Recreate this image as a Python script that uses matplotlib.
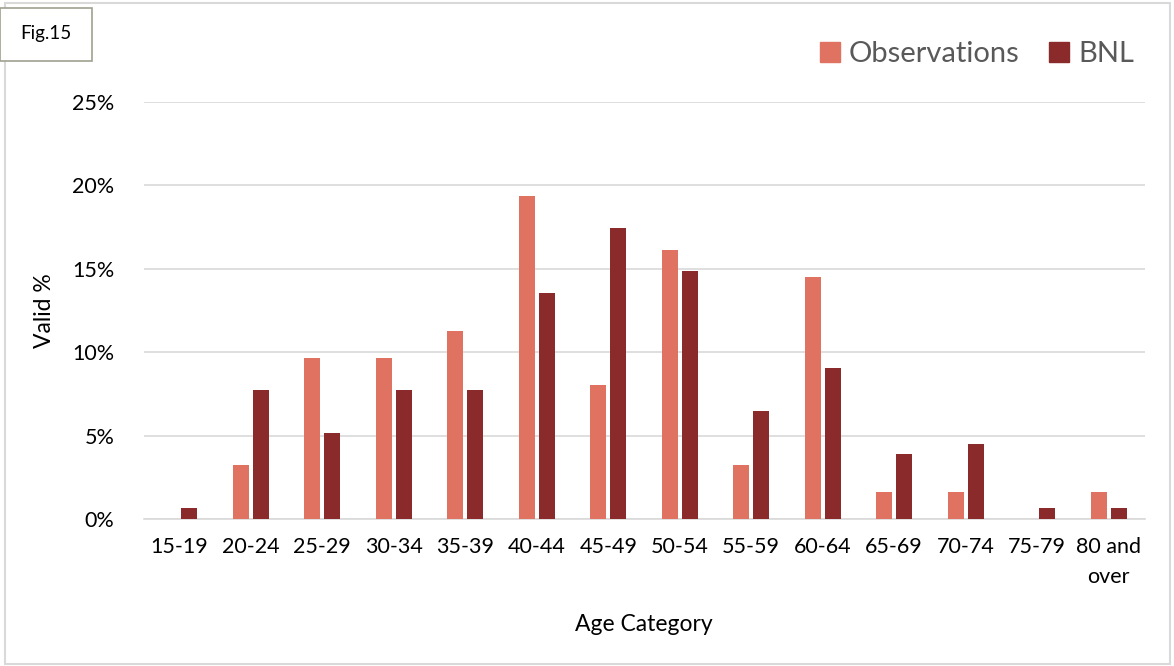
import numpy as np
import matplotlib.pyplot as plt
from matplotlib.patches import Rectangle, Patch
from matplotlib.ticker import FuncFormatter

plt.rcParams['font.family'] = ['Lato', 'DejaVu Sans']

# age groups and valid percentages
age_groups = ['15-19', '20-24', '25-29', '30-34', '35-39', '40-44', '45-49',
              '50-54', '55-59', '60-64', '65-69', '70-74', '75-79', '80 and\nover']
observations = [0.0, 3.23, 9.68, 9.68, 11.29, 19.35, 8.06,
                16.13, 3.23, 14.52, 1.61, 1.61, 0.0, 1.61]
bnl = [0.65, 7.74, 5.16, 7.74, 7.74, 13.55, 17.42,
       14.84, 6.45, 9.03, 3.87, 4.52, 0.65, 0.65]

obs_color = '#E07262'
bnl_color = '#8B2A2B'

fig = plt.figure(figsize=(11.74, 6.66), dpi=100)
ax = fig.add_axes([143.5 / 1174, 1 - 519 / 666, 1001 / 1174, 417 / 666])

x = np.arange(len(age_groups))
w = 0.224
ax.bar(x - 0.14, observations, width=w, color=obs_color, zorder=3)
ax.bar(x + 0.14, bnl, width=w, color=bnl_color, zorder=3)

ax.set_xlim(-0.5, len(age_groups) - 0.5)
ax.set_ylim(0, 25)
ax.set_yticks(range(0, 26, 5))
ax.yaxis.set_major_formatter(FuncFormatter(lambda v, p: '%d%%' % v))
ax.grid(axis='y', color='#D9D9D9', linewidth=1.2, zorder=0)
ax.set_xticks(x)
ax.set_xticklabels(age_groups, fontsize=15.5, linespacing=1.6)
ax.tick_params(axis='y', labelsize=15.5, length=0, pad=21)
ax.tick_params(axis='x', length=0, pad=13)
for s in ['top', 'right', 'left']:
    ax.spines[s].set_visible(False)
ax.spines['bottom'].set_color('#D9D9D9')
ax.spines['bottom'].set_linewidth(1.2)

ax.set_ylabel('Valid %', fontsize=16.5, labelpad=12)
ax.set_xlabel('Age Category', fontsize=16.5, labelpad=20)

handles = [Patch(color=obs_color, label='Observations'),
           Patch(color=bnl_color, label='BNL')]
fig.legend(handles=handles, loc='center right', bbox_to_anchor=(1160 / 1174, 1 - 54 / 666),
           ncol=2, frameon=False, fontsize=21, handlelength=0.7, handleheight=0.7,
           handletextpad=0.3, columnspacing=1.0, labelcolor='#595959')

# outer chart border
fig.patches.append(Rectangle((5 / 1174, 2 / 666), 1165 / 1174, 661 / 666,
                             transform=fig.transFigure, fill=False,
                             edgecolor='#D9D9D9', linewidth=1.5))
# figure tag box
fig.patches.append(Rectangle((0, 1 - 61 / 666), 92 / 1174, 53 / 666,
                             transform=fig.transFigure, facecolor='white',
                             edgecolor='#A0A090', linewidth=1.2, zorder=5))
fig.text(46 / 1174, 1 - 34 / 666, 'Fig.15', ha='center', va='center', fontsize=13.5, zorder=6)

fig.savefig('out.png', dpi=100)
